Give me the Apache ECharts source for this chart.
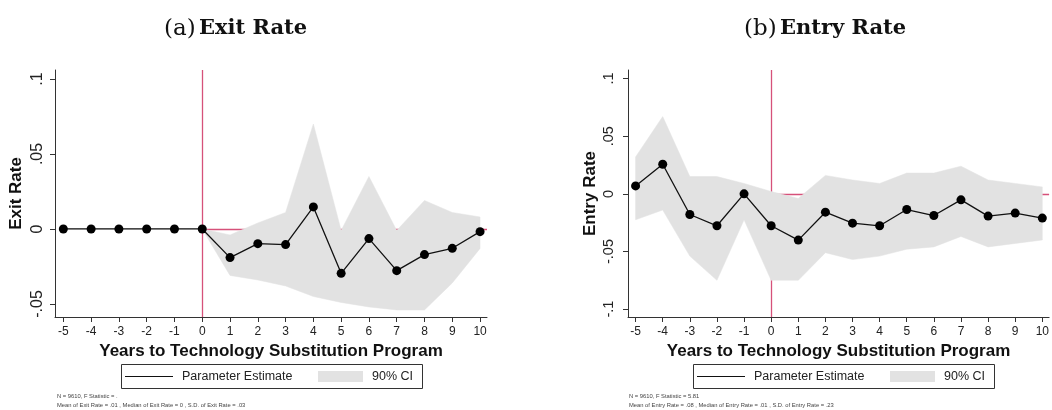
<!DOCTYPE html>
<html>
<head>
<meta charset="utf-8">
<script src="https://cdn.jsdelivr.net/npm/echarts@6/dist/echarts.min.js"></script>
<style>
html,body{margin:0;padding:0;background:#fff;}
#chart{width:1052px;height:410px;}
</style>
</head>
<body>
<div id="chart"></div>
<script>
// ---- data ----
const years = [-5,-4,-3,-2,-1,0,1,2,3,4,5,6,7,8,9,10];
const xTickLabels = ['-5','-4','-3','-2','-1','0','1','2','3','4','5','6','7','8','9','10'];

const exitEst  = [0,0,0,0,0,0,-0.0191,-0.0098,-0.0104,0.0147,-0.0296,-0.0064,-0.0278,-0.0171,-0.0129,-0.0018];
const exitLow  = [0,0,0,0,0,0,-0.031,-0.034,-0.038,-0.045,-0.049,-0.052,-0.054,-0.054,-0.036,-0.013];
const exitHigh = [0,0,0,0,0,0,-0.004,0.004,0.011,0.070,-0.001,0.035,-0.001,0.019,0.011,0.008];
const exitYTicks = [-0.05,0,0.05,0.1];
const exitYLabels = ['-.05','0','.05','.1'];

const entryEst  = [0.0069,0.0257,-0.0179,-0.0277,0.0,-0.0277,-0.0401,-0.0159,-0.0254,-0.0277,-0.0136,-0.0188,-0.0052,-0.0193,-0.0167,-0.021];
const entryLow  = [-0.0225,-0.014,-0.054,-0.075,-0.0225,-0.075,-0.075,-0.051,-0.057,-0.054,-0.048,-0.046,-0.037,-0.046,-0.043,-0.040];
const entryHigh = [0.032,0.067,0.015,0.015,0.009,0.002,-0.004,0.016,0.012,0.009,0.018,0.018,0.024,0.012,0.009,0.006];
const entryYTicks = [-0.1,-0.05,0,0.05,0.1];
const entryYLabels = ['-.1','-.05','0','.05','.1'];

// ---- styles ----
const FONT = 'Liberation Sans, Arial, sans-serif';
const AXIS_COLOR = '#333';
const RED = '#d6517a';
const BAND = '#e2e2e2';

function labelMap(vals, labels){
  return function(v){
    for (let i=0;i<vals.length;i++){ if (Math.abs(vals[i]-v) < 1e-9) return labels[i]; }
    return '';
  };
}

function xAxisOf(gi, min, max){
  return {
    type:'value', gridIndex:gi, min:min, max:max,
    name:'Years to Technology Substitution Program',
    nameLocation:'middle', nameGap:22,
    nameTextStyle:{fontFamily:FONT,fontWeight:'bold',fontSize:17,color:'#111'},
    axisLine:{show:true,onZero:false,lineStyle:{color:AXIS_COLOR,width:1}},
    axisTick:{show:true,length:5,customValues:years,lineStyle:{color:AXIS_COLOR}},
    axisLabel:{customValues:years,margin:9,fontFamily:FONT,fontSize:12,color:'#222',
      formatter:labelMap(years,xTickLabels)},
    splitLine:{show:false}
  };
}
function yAxisOf(gi, min, max, name, ticks, labels, fs, margin, gap){
  return {
    type:'value', gridIndex:gi, min:min, max:max,
    name:name, nameLocation:'middle', nameGap:gap,
    nameTextStyle:{fontFamily:FONT,fontWeight:'bold',fontSize:17,color:'#111'},
    axisLine:{show:true,onZero:false,lineStyle:{color:AXIS_COLOR,width:1}},
    axisTick:{show:true,length:5,customValues:ticks,lineStyle:{color:AXIS_COLOR}},
    axisLabel:{customValues:ticks,rotate:90,margin:margin,fontFamily:FONT,fontSize:fs,color:'#222',
      formatter:labelMap(ticks,labels)},
    splitLine:{show:false}
  };
}

function pairs(xs, ys){ return xs.map((x,i)=>[x,ys[i]]); }

function bandSeries(gi, lo, hi){
  return {
    type:'custom', xAxisIndex:gi, yAxisIndex:gi, silent:true, z:2,
    data: years.map((x,i)=>[x, lo[i], hi[i]]),
    encode:{x:0, y:[1,2]},
    renderItem:function(params, api){
      if (params.dataIndex !== 0) return null;
      const pts = [];
      for (let i=0;i<years.length;i++) pts.push(api.coord([years[i], hi[i]]));
      for (let i=years.length-1;i>=0;i--) pts.push(api.coord([years[i], lo[i]]));
      return {type:'polygon', shape:{points:pts}, style:{fill:BAND, stroke:BAND, lineWidth:0.5}};
    }
  };
}

function panelSeries(gi, est, lo, hi, xmax){
  return [
    { type:'line', xAxisIndex:gi, yAxisIndex:gi, data:[], z:1, silent:true,
      markLine:{ z:1, silent:true, symbol:'none', label:{show:false},
        lineStyle:{color:RED,width:1.3,type:'solid'},
        data:[ {xAxis:0}, [ {coord:[0,0]}, {coord:[xmax,0]} ] ] } },
    bandSeries(gi, lo, hi),
    { type:'line', xAxisIndex:gi, yAxisIndex:gi, data:pairs(years, est),
      symbol:'circle', symbolSize:9, itemStyle:{color:'#000'},
      lineStyle:{color:'#111',width:1.3}, z:3 }
  ];
}

function legendGraphics(x0, note1, note2){
  return [
    {type:'rect', shape:{x:x0+0.5,y:364.5,width:301,height:24}, style:{fill:'#fff',stroke:'#333',lineWidth:1}},
    {type:'line', shape:{x1:x0+4,y1:376.5,x2:x0+52,y2:376.5}, style:{stroke:'#111',lineWidth:1.2}},
    {type:'text', x:x0+61, y:376.5, style:{text:'Parameter Estimate',font:'12.5px '+FONT,fill:'#222',textVerticalAlign:'middle'}},
    {type:'rect', shape:{x:x0+197,y:371,width:45,height:11}, style:{fill:BAND}},
    {type:'text', x:x0+251, y:376.5, style:{text:'90% CI',font:'12.5px '+FONT,fill:'#222',textVerticalAlign:'middle'}},
    {type:'text', x:x0-64, y:396.5, style:{text:note1,font:'5.8px '+FONT,fill:'#444',textVerticalAlign:'middle'}},
    {type:'text', x:x0-64, y:405.5, style:{text:note2,font:'5.8px '+FONT,fill:'#444',textVerticalAlign:'middle'}}
  ];
}

const TITLE_FONT = 'DejaVu Serif, Liberation Serif, serif';
const chart = echarts.init(document.getElementById('chart'), null, {renderer:'canvas'});
chart.setOption({
  animation:false,
  backgroundColor:'#fff',
  grid:[
    {left:55, top:70, width:432, height:247},
    {left:628, top:70, width:430, height:247}
  ],
  xAxis:[ xAxisOf(0,-5.3,10.25), xAxisOf(1,-5.28,10.25) ],
  yAxis:[
    yAxisOf(0,-0.0587,0.106,'Exit Rate',exitYTicks,exitYLabels,16,9,30),
    yAxisOf(1,-0.1068,0.1074,'Entry Rate',entryYTicks,entryYLabels,14.5,12,29)
  ],
  series: panelSeries(0, exitEst, exitLow, exitHigh, 10.25).concat(panelSeries(1, entryEst, entryLow, entryHigh, 10.25)),
  graphic:[
    {type:'text', x:164, y:29, style:{text:'{a|(a)} {b|Exit Rate}', textVerticalAlign:'middle',
      rich:{a:{font:'23px '+TITLE_FONT,fill:'#111'}, b:{font:'bold 21px '+TITLE_FONT,fill:'#111'}}}},
    {type:'text', x:744, y:29, style:{text:'{a|(b)} {b|Entry Rate}', textVerticalAlign:'middle',
      rich:{a:{font:'23px '+TITLE_FONT,fill:'#111'}, b:{font:'bold 21px '+TITLE_FONT,fill:'#111'}}}}
  ].concat(
    legendGraphics(121,'N = 9610, F Statistic = .','Mean of Exit Rate = .01 , Median of Exit Rate = 0 , S.D. of Exit Rate = .03'),
    legendGraphics(693,'N = 9610, F Statistic = 5.81','Mean of Entry Rate = .08 , Median of Entry Rate = .01 , S.D. of Entry Rate = .23')
  )
});
</script>
</body>
</html>
